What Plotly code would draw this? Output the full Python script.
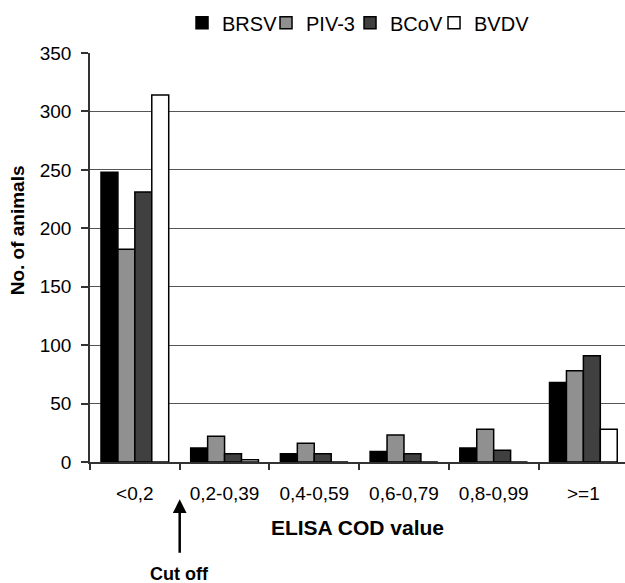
import plotly.graph_objects as go

categories = ["<0,2", "0,2-0,39", "0,4-0,59", "0,6-0,79", "0,8-0,99", ">=1"]
brsv = [248, 12, 7, 9, 12, 68]
piv3 = [182, 22, 16, 23, 28, 78]
bcov = [231, 7, 7, 7, 10, 91]
bvdv = [314, 2, 0, 0, 0, 28]

series = [
    ("BRSV", brsv, "#000000"),
    ("PIV-3", piv3, "#909090"),
    ("BCoV", bcov, "#404040"),
    ("BVDV", bvdv, "#ffffff"),
]

FONT = "Liberation Sans, Arial, sans-serif"

fig = go.Figure()
for i, (name, vals, col) in enumerate(series):
    fig.add_trace(go.Bar(
        name=name, x=categories, y=vals,
        marker=dict(color=col, line=dict(color="#000000", width=1.5)),
        legendwidth=70 if i == len(series) - 1 else None,
    ))

fig.update_layout(
    width=625, height=583,
    margin=dict(l=90, r=0, t=53, b=121, pad=0),
    paper_bgcolor="white", plot_bgcolor="white",
    barmode="group", bargap=0.245, bargroupgap=0,
    font=dict(family=FONT, color="#000000", size=19),
    showlegend=True,
    legend=dict(
        orientation="h", x=0.172, xanchor="left", y=1.074, yanchor="middle",
        font=dict(size=20, family=FONT), entrywidth=39, entrywidthmode="pixels",
        bgcolor="rgba(0,0,0,0)", traceorder="normal",
    ),
)

fig.update_xaxes(
    type="category", range=[-0.5, 5.464],
    showline=True, linecolor="#333333", linewidth=1.5,
    ticks="outside", ticklen=6, tickcolor="#333333", tickwidth=1.5,
    tickson="boundaries", showgrid=False,
    tickfont=dict(size=19), ticklabelstandoff=13,
    title=dict(text="<b>ELISA COD value</b>", font=dict(size=21), standoff=18),
)
fig.update_yaxes(
    range=[0, 350], dtick=50, tick0=0,
    showline=True, linecolor="#333333", linewidth=1.5,
    ticks="outside", ticklen=7, tickcolor="#333333", tickwidth=1.5,
    showgrid=True, gridcolor="#555555", gridwidth=1.3, zeroline=False,
    tickfont=dict(size=19), ticklabelstandoff=6,
)

fig.add_annotation(
    text="<b>No. of animals</b>", xref="paper", yref="paper",
    x=-0.136, y=0.567, xanchor="center", yanchor="middle",
    textangle=-90, showarrow=False,
    font=dict(size=19, family=FONT, color="#000000"),
)
fig.add_annotation(
    text="<b>Cut off</b>", xref="x", yref="paper", x=0.5, y=-0.0913,
    ax=0, ay=75, showarrow=True, arrowhead=2, arrowsize=1.1, arrowwidth=2.5,
    arrowcolor="#000000", startstandoff=10,
    font=dict(size=18, family=FONT, color="#000000"),
)

fig.write_html(
    "out.html",
    config={"displayModeBar": False},
    post_script="document.body.style.margin='0';document.body.style.overflow='hidden';",
)
